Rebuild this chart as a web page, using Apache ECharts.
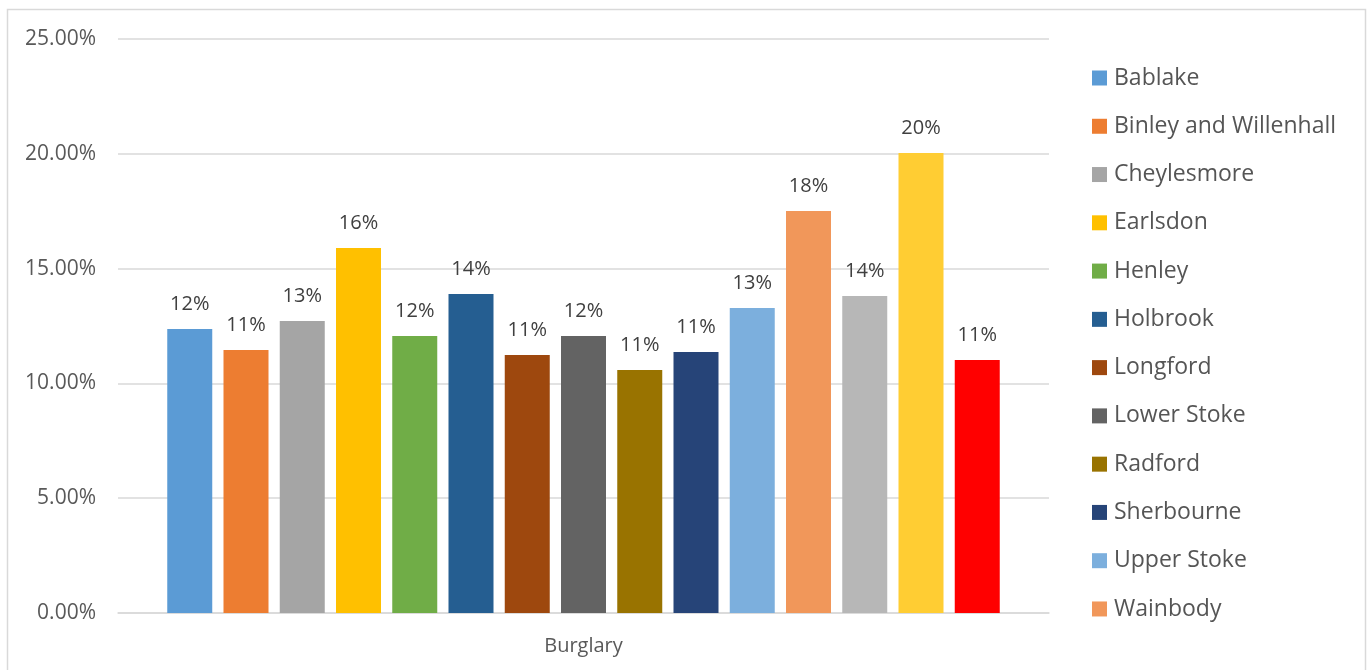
<!DOCTYPE html>
<html>
<head>
<meta charset="utf-8">
<script src="https://cdn.jsdelivr.net/npm/echarts@6/dist/echarts.min.js"></script>
<style>
  html, body { margin: 0; padding: 0; background: #ffffff; }
  #chart { width: 1368px; height: 670px; }
</style>
</head>
<body>
<div id="chart"></div>
<script>
// Burglary share by ward (percent)
const category = ['Burglary'];
const wards = ['Bablake', 'Binley and Willenhall', 'Cheylesmore', 'Earlsdon', 'Henley',
  'Holbrook', 'Longford', 'Lower Stoke', 'Radford', 'Sherbourne', 'Upper Stoke',
  'Wainbody', 'Westwood', 'Whoberley', 'Woodlands'];
const values = [12.37, 11.45, 12.72, 15.90, 12.06, 13.89, 11.24, 12.06, 10.58, 11.37,
  13.28, 17.51, 13.81, 20.03, 11.02];
const wardColors = ['#5B9BD5', '#ED7D31', '#A5A5A5', '#FFC000', '#70AD47', '#255E91',
  '#9E480E', '#636363', '#997300', '#264478', '#7CAFDD', '#F1975A', '#B7B7B7',
  '#FFCD33', '#FF0000'];
// Only the first twelve entries fit in the legend column
const legendShown = wards.slice(0, 12);
const yTicks = { min: 0, max: 25, interval: 5 };

const FONT = 'Open Sans';
const chart = echarts.init(document.getElementById('chart'));

const series = wards.map((name, i) => ({
  name: name,
  type: 'bar',
  data: [values[i]],
  barWidth: 45,
  barGap: '25%',
  itemStyle: { color: wardColors[i] },
  label: {
    show: true,
    position: 'top',
    distance: 15,
    color: '#404040',
    fontFamily: FONT,
    fontSize: 20,
    formatter: p => Math.round(p.value) + '%'
  }
}));

chart.setOption({
  animation: false,
  backgroundColor: '#ffffff',
  textStyle: { fontFamily: FONT },
  graphic: [{
    type: 'rect',
    shape: { x: 7.5, y: 9.5, width: 1358, height: 680 },
    style: { fill: 'none', stroke: '#d9d9d9', lineWidth: 1.5 },
    silent: true
  }],
  grid: { left: 118, right: 319, top: 39, bottom: 57 },
  legend: {
    orient: 'vertical',
    left: 1092,
    top: 66,
    padding: 0,
    itemWidth: 15,
    itemHeight: 15,
    itemGap: 24.27,
    icon: 'rect',
    data: legendShown,
    textStyle: { color: '#555555', fontFamily: FONT, fontSize: 23, lineHeight: 24, padding: [0, 0, 0, 2] }
  },
  xAxis: {
    type: 'category',
    data: category,
    axisLine: { lineStyle: { color: '#d9d9d9', width: 1.5 } },
    axisTick: { show: false },
    axisLabel: { color: '#595959', fontFamily: FONT, fontSize: 20, margin: 23 }
  },
  yAxis: {
    type: 'value',
    min: yTicks.min,
    max: yTicks.max,
    interval: yTicks.interval,
    axisLine: { show: false },
    axisTick: { show: false },
    splitLine: { lineStyle: { color: '#d9d9d9', width: 1.5 } },
    axisLabel: {
      color: '#595959', fontFamily: FONT, fontSize: 21, margin: 22,
      formatter: v => v.toFixed(2) + '%'
    }
  },
  series: series
});
</script>
</body>
</html>
